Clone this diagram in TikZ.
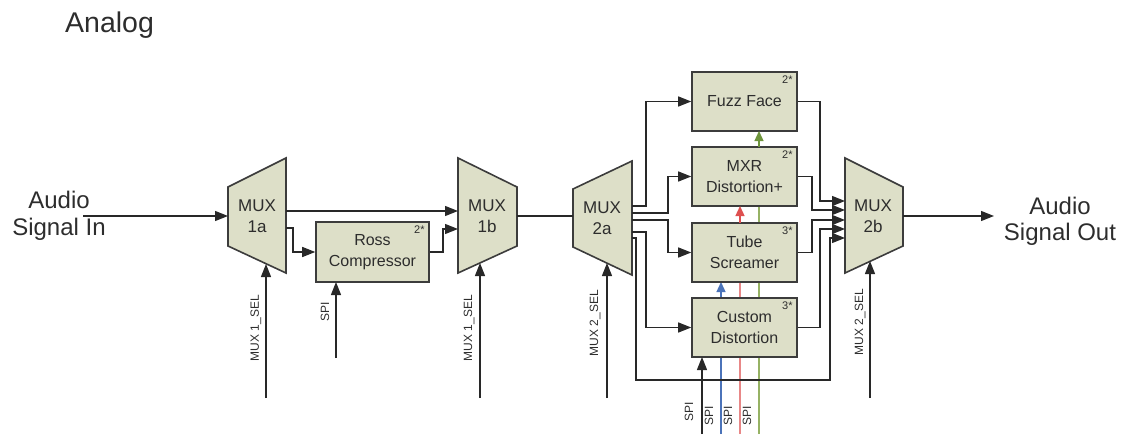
\documentclass[tikz,border=0pt]{standalone}
\usepackage{fontspec}
\setmainfont{Liberation Sans}
\usetikzlibrary{arrows.meta}
\definecolor{boxfill}{RGB}{221,223,200}
\definecolor{edgec}{RGB}{60,60,60}
\definecolor{wirec}{RGB}{40,40,40}
\definecolor{textc}{RGB}{45,45,45}
\definecolor{spiblue}{RGB}{75,115,185}
\definecolor{spired}{RGB}{232,135,135}
\definecolor{spigreen}{RGB}{150,178,100}
\definecolor{arrred}{RGB}{222,80,80}
\definecolor{arrgreen}{RGB}{110,148,60}
\begin{document}
\begin{tikzpicture}[x=1pt,y=-1pt,
  wire/.style={draw=wirec, line width=1.3pt},
  arr/.style={wire, -{Triangle[length=13pt,width=10pt]}},
  carr/.style={line width=1.3pt, -{Triangle[length=10pt,width=9pt]}},
  fxbox/.style={draw=edgec, fill=boxfill, line width=1.6pt, minimum width=105pt,
    minimum height=59pt, inner sep=0pt, align=center, text=textc,
    font=\fontsize{16}{21}\selectfont},
  muxshape/.style={draw=edgec, fill=boxfill, line width=1.6pt},
  muxtext/.style={align=center, text=textc, font=\fontsize{17}{21}\selectfont},
  big/.style={text=textc, font=\fontsize{24}{28}\selectfont, anchor=base},
  lbl/.style={text=textc, font=\fontsize{12}{14}\selectfont, rotate=90},
  cnt/.style={text=textc, font=\fontsize{11}{12}\selectfont, anchor=north east, inner sep=0pt},
]
\useasboundingbox (0,0) rectangle (1125,434);

% ---------- SPI colour lines (behind boxes) ----------
\draw[carr, draw=spiblue, -{Triangle[length=10pt,width=9pt]}] (721,434) -- (721,282);
\draw[draw=spired, line width=1.3pt] (740,434) -- (740,223);
\draw[draw=spigreen, line width=1.3pt] (759,434) -- (759,147);

% ---------- title ----------
\node[text=textc, font=\fontsize{28.5}{32}\selectfont, anchor=base west, inner sep=0pt] (title) at (65,32) {Analog};

% ---------- MUX shapes ----------
\draw[muxshape] (228,187) -- (286,158) -- (286,273) -- (228,246) -- cycle;
\node[muxtext] (m1a) at (257,216) {MUX\\1a};
\draw[muxshape] (458,158) -- (517,187) -- (517,246) -- (458,273) -- cycle;
\node[muxtext] (m1b) at (487,216) {MUX\\1b};
\draw[muxshape] (573,189) -- (632,161) -- (632,275) -- (573,247) -- cycle;
\node[muxtext] (m2a) at (602,218) {MUX\\2a};
\draw[muxshape] (845,158) -- (903,187) -- (903,246) -- (845,273) -- cycle;
\node[muxtext] (m2b) at (873,216) {MUX\\2b};

% ---------- effect boxes ----------
\node[fxbox, minimum width=113pt, minimum height=60pt] (ross) at (372.5,252) {Ross\\Compressor};
\node[cnt] at ([xshift=-5pt,yshift=-4pt]ross.north east) {2*};
\node[fxbox] (fuzz) at (744.5,101.5) {Fuzz Face};
\node[cnt] at ([xshift=-5pt,yshift=-4pt]fuzz.north east) {2*};
\node[fxbox] (mxr) at (744.5,176.5) {MXR\\Distortion+};
\node[cnt] at ([xshift=-5pt,yshift=-4pt]mxr.north east) {2*};
\node[fxbox] (tube) at (744.5,252.5) {Tube\\Screamer};
\node[cnt] at ([xshift=-5pt,yshift=-4pt]tube.north east) {3*};
\node[fxbox] (custom) at (744.5,327.5) {Custom\\Distortion};
\node[cnt] at ([xshift=-5pt,yshift=-4pt]custom.north east) {3*};

% ---------- coordinates ----------
\coordinate (in) at (83,216);
\coordinate (m1aIn) at (228,216);
\coordinate (m1aO1) at (286,211);
\coordinate (m1aO2) at (286,228);
\coordinate (m1bI1) at (458,211);
\coordinate (m1bI2) at (458,229);
\coordinate (m1bOut) at (517,216);
\coordinate (m2aIn) at (573,216);
\coordinate (m2aO1) at (632,206);
\coordinate (m2aO2) at (632,213);
\coordinate (m2aO3) at (632,220);
\coordinate (m2aO4) at (632,232);
\coordinate (m2aO5) at (632,238);
\coordinate (m2bI1) at (845,201);
\coordinate (m2bI2) at (845,210);
\coordinate (m2bI3) at (845,220);
\coordinate (m2bI4) at (845,229);
\coordinate (m2bI5) at (845,238);
\coordinate (m2bOut) at (903,216);
\coordinate (out) at (994,216);
\coordinate (s1a) at (266,264);   \coordinate (s1aB) at (266,398);
\coordinate (s1b) at (480,263);   \coordinate (s1bB) at (480,398);
\coordinate (s2a) at (607,263);   \coordinate (s2aB) at (607,398);
\coordinate (s2b) at (870,261);   \coordinate (s2bB) at (870,398);
\coordinate (rossB) at (336,358);

% ---------- signal path ----------
\draw[arr] (in) -- (m1aIn);
\draw[arr] (m1aO1) -- (m1bI1);
\draw[arr] (m1aO2) -- (293,228) |- (ross.west);
\draw[arr] (ross.east) -- (443,252) |- (m1bI2);
\draw[wire] (m1bOut) -- (m2aIn);
\draw[arr] (m2aO1) -- (646,206) |- (fuzz.west);
\draw[arr] (m2aO2) -- (668,213) |- (mxr.west);
\draw[arr] (m2aO3) -- (668,220) |- (tube.west);
\draw[arr] (m2aO4) -- (646,232) |- (custom.west);
\draw[arr] (m2aO5) -- (636,238) -- (636,380) -- (830,380) |- (m2bI5);
\draw[arr] (fuzz.east) -- (820,101.5) |- (m2bI1);
\draw[arr] (mxr.east) -- (812,176.5) |- (m2bI2);
\draw[arr] (tube.east) -- (812,252.5) |- (m2bI3);
\draw[arr] (custom.east) -- (820,327.5) |- (m2bI4);
\draw[arr] (m2bOut) -- (out);

% ---------- selects ----------
\draw[arr] (s1aB) -- (s1a);
\draw[arr] (s1bB) -- (s1b);
\draw[arr] (s2aB) -- (s2a);
\draw[arr] (s2bB) -- (s2b);
\draw[arr] (rossB) -- (336,282);
\draw[arr] (702,434) -- (702,357);
\draw[carr, draw=spired, arrred] (740,223) -- (740,206);
\draw[carr, draw=spigreen, arrgreen] (759,147) -- (759,131);

% ---------- labels ----------
\node[big] (ain) at (59,208) {Audio};
\node[big] (sin) at (59,235) {Signal In};
\node[big] (aout) at (1060,214) {Audio};
\node[big] (sout) at (1060,240) {Signal Out};
\node[lbl] (l1a) at (256,328) {MUX 1\_SEL};
\node[lbl] (lross) at (325,312) {SPI};
\node[lbl] (l1b) at (469,328) {MUX 1\_SEL};
\node[lbl] (l2a) at (595,323) {MUX 2\_SEL};
\node[lbl] (l2b) at (860,322) {MUX 2\_SEL};
\node[lbl] (sp1) at (689,412) {SPI};
\node[lbl] (sp2) at (709,416) {SPI};
\node[lbl] (sp3) at (728,416) {SPI};
\node[lbl] (sp4) at (747,416) {SPI};
\end{tikzpicture}
\end{document}
